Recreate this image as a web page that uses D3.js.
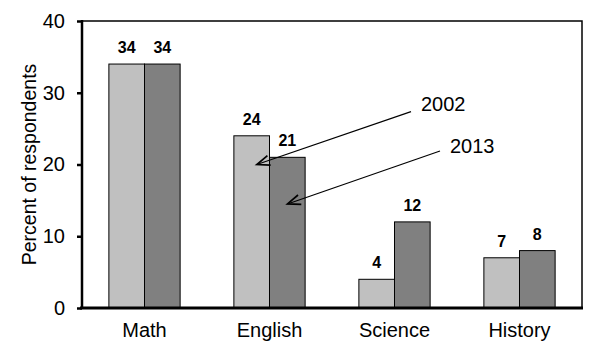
<!DOCTYPE html>
<html>
<head>
<meta charset="utf-8">
<script src="https://cdn.jsdelivr.net/npm/d3@7/dist/d3.min.js"></script>
<style>
  html, body { margin: 0; padding: 0; background: #fff; }
  svg { display: block; font-family: Arial, "Liberation Sans", Helvetica, sans-serif; }
</style>
</head>
<body>
<svg id="chart" width="600" height="360"></svg>
<script>
// ---- data ----
const categories = ["Math", "English", "Science", "History"];
const seriesNames = ["2002", "2013"];
const values2002 = [34, 24, 4, 7];
const values2013 = [34, 21, 12, 8];
const yTicks = [0, 10, 20, 30, 40];
const yTitle = "Percent of respondents";
// annotations: label, category, series, value the arrow points at
const annLabels = ["2002", "2013"];
const annCategory = ["English", "English"];
const annSeries = ["2002", "2013"];
const annTargetValue = [20, 14.5];
const annTextValue = [27.5, 21.6];

(function () {
// ---- layout ----
const mLeft = 82, mRight = 582, mTop = 21, mBottom = 308;
const colors = { "2002": "#c0c0c0", "2013": "#808080" };
const bigFont = 20;

const svg = d3.select("#chart");

const x0 = d3.scaleBand().domain(categories).range([mLeft, mRight])
  .paddingInner(0.43).paddingOuter(0.215);
const x1 = d3.scaleBand().domain(seriesNames).range([0, x0.bandwidth()]);
const y = d3.scaleLinear().domain([0, 40]).range([mBottom, mTop]);

const rows = categories.map((c, i) => ({ cat: c, vals: [
  { s: "2002", v: values2002[i] }, { s: "2013", v: values2013[i] } ] }));

// frame (top/right thin)
svg.append("rect").attr("x", mLeft).attr("y", mTop)
  .attr("width", mRight - mLeft).attr("height", mBottom - mTop)
  .attr("fill", "none").attr("stroke", "#000").attr("stroke-width", 1.5);

// bars
const g = svg.append("g").selectAll("g").data(rows).join("g")
  .attr("transform", d => `translate(${x0(d.cat)},0)`);
g.selectAll("rect").data(d => d.vals).join("rect")
  .attr("x", d => x1(d.s)).attr("y", d => y(d.v))
  .attr("width", x1.bandwidth()).attr("height", d => y(0) - y(d.v))
  .attr("fill", d => colors[d.s]).attr("stroke", "#000").attr("stroke-width", 1);
g.selectAll("text").data(d => d.vals).join("text")
  .attr("x", d => x1(d.s) + x1.bandwidth() / 2).attr("y", d => y(d.v) - 11)
  .attr("text-anchor", "middle").attr("font-size", 16).attr("font-weight", "bold")
  .text(d => d.v);

// y axis
const ya = svg.append("g").attr("transform", `translate(${mLeft},0)`)
  .call(d3.axisLeft(y).tickValues(yTicks).tickSize(5).tickPadding(12));
ya.select(".domain").remove();
ya.selectAll(".tick line").attr("stroke-width", 2.5);
ya.selectAll(".tick text").attr("font-size", bigFont).attr("fill", "#000")
  .attr("font-family", "Arial, 'Liberation Sans', sans-serif");
svg.append("line").attr("x1", mLeft).attr("x2", mLeft).attr("y1", mTop - 1).attr("y2", mBottom + 1)
  .attr("stroke", "#000").attr("stroke-width", 2.5);

// x axis
const xa = svg.append("g").attr("transform", `translate(0,${mBottom})`)
  .call(d3.axisBottom(x0).tickSize(0).tickPadding(15));
xa.select(".domain").remove();
xa.selectAll(".tick text").attr("font-size", bigFont).attr("fill", "#000")
  .attr("font-family", "Arial, 'Liberation Sans', sans-serif");
svg.append("line").attr("x1", mLeft - 2).attr("x2", mRight + 1).attr("y1", mBottom).attr("y2", mBottom)
  .attr("stroke", "#000").attr("stroke-width", 3);

// y title
svg.append("text").attr("transform", `translate(36,${(mTop + mBottom) / 2}) rotate(-90)`)
  .attr("text-anchor", "middle").attr("font-size", 19.5).text(yTitle);

// arrow marker
svg.append("defs").append("marker").attr("id", "arr")
  .attr("markerUnits", "userSpaceOnUse").attr("orient", "auto")
  .attr("markerWidth", 20).attr("markerHeight", 20)
  .attr("viewBox", "-12 -6 14 12").attr("refX", 0).attr("refY", 0)
  .append("path").attr("d", "M-9,-3.5 L0,0 L-9,3.5")
  .attr("fill", "none").attr("stroke", "#000").attr("stroke-width", 1.2);

// annotations
const textX = [421, 450];
annLabels.forEach((lab, i) => {
  const bx = x0(annCategory[i]) + x1(annSeries[i]);
  const tipX = bx + (i === 0 ? 23 : 18);
  const tipY = y(annTargetValue[i]);
  const ty = y(annTextValue[i]);
  svg.append("line").attr("x1", textX[i] - 10).attr("y1", ty + (i === 0 ? 1 : -2))
    .attr("x2", tipX).attr("y2", tipY)
    .attr("stroke", "#000").attr("stroke-width", 1.2).attr("marker-end", "url(#arr)");
  svg.append("text").attr("x", textX[i]).attr("y", ty)
    .attr("font-size", bigFont).text(lab);
});
})();
</script>
</body>
</html>
